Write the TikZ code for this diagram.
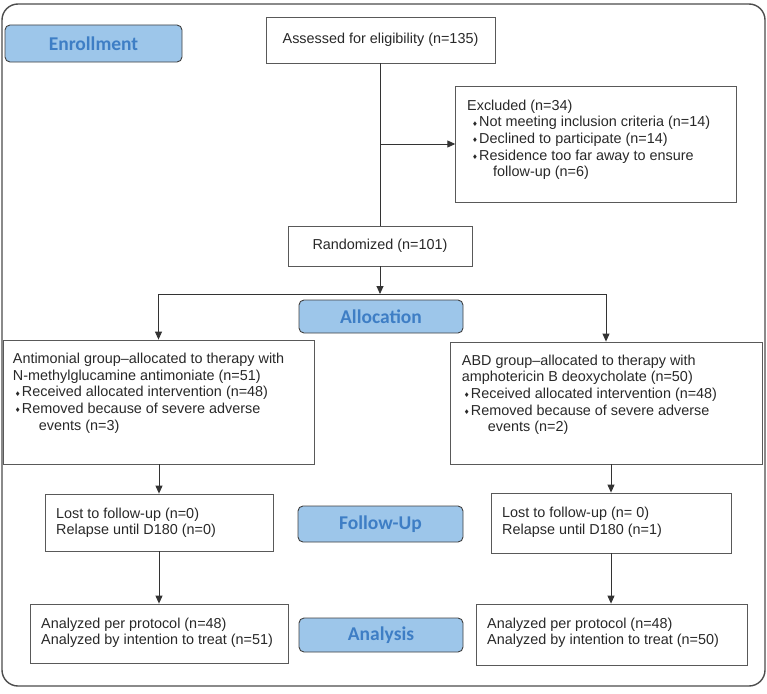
\documentclass[tikz,border=0pt]{standalone}
\usepackage{fontspec}
\setmainfont{Liberation Sans}
\newfontfamily\dvfont{DejaVu Sans}
\newfontfamily\labfamily{Carlito}
\usetikzlibrary{arrows.meta}
\definecolor{labfill}{RGB}{157,198,234}
\definecolor{labtext}{RGB}{62,126,197}
\definecolor{txtcol}{RGB}{40,40,40}
\newcommand\bul[1][2pt]{\kern#1{\dvfont\fontsize{6.5}{6.5}\selectfont\raisebox{0.6pt}{♦}}\kern1.2pt}
\tikzset{
  box/.style={draw=black!65, line width=0.8pt, inner sep=0pt},
  txt/.style={anchor=base west, inner sep=0pt, align=left, text=txtcol,
    font=\fontsize{14.4}{16.7}\selectfont},
  ctxt/.style={text=txtcol, font=\fontsize{14.4}{16.7}\selectfont},
  lab/.style={draw=black!75, fill=labfill, rounded corners=5pt, line width=0.9pt,
    text=labtext, font=\labfamily\bfseries\fontsize{19.5}{21}\selectfont, inner sep=0pt},
  arr/.style={draw=black!80, line width=0.9pt, -{Triangle[length=8pt,width=7pt]}},
  ln/.style={draw=black!80, line width=0.9pt},
  frame/.style={draw=black!70, line width=1.4pt, rounded corners=16pt}
}
\begin{document}
\begin{tikzpicture}[x=1pt,y=-1pt]
\useasboundingbox (0,0) rectangle (767,693);
\draw[frame] (2,4) rectangle (765,686);

% labels
\node[lab, minimum width=177pt, minimum height=37pt] (enr) at (93.5,43.5) {Enrollment};
\node[lab, minimum width=164pt, minimum height=33pt] (alo) at (381,316.5) {Allocation};
\node[lab, minimum width=165pt, minimum height=36pt] (fol) at (380.5,524) {Follow-Up};
\node[lab, minimum width=164pt, minimum height=34pt] (ana) at (381,635) {Analysis};

% boxes
\node[box, ctxt, minimum width=229pt, minimum height=46pt] (ass) at (380.5,40) {Assessed for eligibility (n=135)};
\node[box, minimum width=281pt, minimum height=116pt] (ex) at (596.2,144) {};
\node[box, ctxt, minimum width=184pt, minimum height=40pt] (rnd) at (380,246) {Randomized (n=101)};
\node[box, minimum width=311pt, minimum height=124pt] (la) at (158.5,402) {};
\node[box, minimum width=312pt, minimum height=122pt] (ra) at (606,403) {};
\node[box, minimum width=228pt, minimum height=57pt] (ll) at (159,522.5) {};
\node[box, minimum width=240pt, minimum height=60pt] (rl) at (611,523) {};
\node[box, minimum width=258pt, minimum height=59pt] (lz) at (159,633.5) {};
\node[box, minimum width=271pt, minimum height=61pt] (rz) at (611.5,634.5) {};

% texts (anchor = baseline of last line)
\node[txt] (ext) at (467,176.8) {Excluded (n=34)\\
\bul[5pt]Not meeting inclusion criteria (n=14)\\
\bul[5pt]Declined to participate (n=14)\\
\bul[5pt]Residence too far away to ensure\\
\hspace*{26pt}follow-up (n=6)};
\node[txt] (lat) at (12.7,430.1) {Antimonial group--allocated to therapy with\\
N-methylglucamine antimoniate (n=51)\\
\bul Received allocated intervention (n=48)\\
\bul Removed because of severe adverse\\
\hspace*{26pt}events (n=3)};
\node[txt] (rat) at (461.7,431.8) {ABD group--allocated to therapy with\\
amphotericin B deoxycholate (n=50)\\
\bul Received allocated intervention (n=48)\\
\bul Removed because of severe adverse\\
\hspace*{26pt}events (n=2)};
\node[txt] (llt) at (56,534.7) {Lost to follow-up (n=0)\\Relapse until D180 (n=0)};
\node[txt] (rlt) at (502,534.4) {Lost to follow-up (n= 0)\\Relapse until D180 (n=1)};
\node[txt] (lzt) at (41,644.7) {Analyzed per protocol (n=48)\\Analyzed by intention to treat (n=51)};
\node[txt] (rzt) at (487,644.7) {Analyzed per protocol (n=48)\\Analyzed by intention to treat (n=50)};

% connectors
\coordinate (split) at (380,294);
\draw[ln] (ass.south -| rnd.north) -- (rnd.north);
\draw[arr] (rnd.north |- ex.west) -- (ex.west);
\draw[arr] (rnd.south) -- (split);
\draw[arr] (split) -| (la.north);
\draw[arr] (split) -| (ra.north);
\draw[arr] (la.south -| ll.north) -- (ll.north);
\draw[arr] (ra.south -| rl.north) -- (rl.north);
\draw[arr] (ll.south) -- (ll.south |- lz.north);
\draw[arr] (rl.south) -- (rl.south |- rz.north);
\end{tikzpicture}
\end{document}
